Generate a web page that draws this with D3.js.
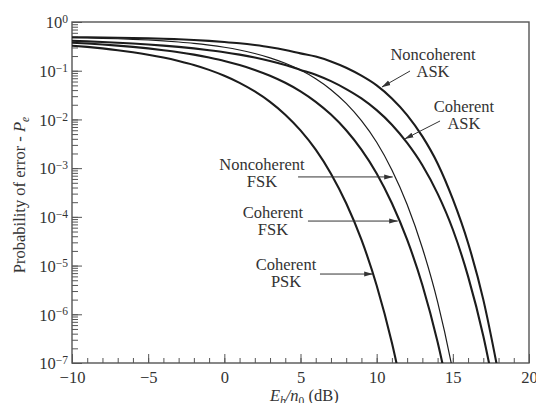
<!DOCTYPE html>
<html>
<head>
<meta charset="utf-8">
<script src="https://cdn.jsdelivr.net/npm/d3@7"></script>
<style>
  html, body { margin: 0; padding: 0; background: #fff; }
  svg { display: block; font-family: "Liberation Serif", "DejaVu Serif", serif; }
</style>
</head>
<body>
<svg id="chart" width="536" height="403"></svg>
<script>
// Eb/n0 in dB, shared by every curve (each curve stops once it is off the bottom)
const ebn0 = [-10, -9, -8, -7, -6, -5, -4, -3, -2, -1, 0, 1, 2, 3, 4, 5, 6, 7, 8, 9, 10, 11, 12, 13, 14, 15, 16, 17, 18];

// Probability of error
const coherentPSK = [0.327, 0.308, 0.287, 0.264, 0.239, 0.213, 0.186, 0.158, 0.131, 0.104, 0.0786, 0.0563, 0.0375, 0.0229, 0.0125, 0.00595, 0.00239, 7.7e-4, 1.9e-4, 3.4e-5, 3.9e-6, 2.6e-7, 9.0e-9];
const coherentFSK = [0.376, 0.361, 0.345, 0.328, 0.308, 0.287, 0.264, 0.240, 0.214, 0.186, 0.159, 0.131, 0.104, 0.0789, 0.0565, 0.0377, 0.0230, 0.0126, 0.0060, 0.0024, 7.8e-4, 1.9e-4, 3.4e-5, 4.0e-6, 2.7e-7, 9.4e-9];
const noncoherentFSK = [0.476, 0.470, 0.462, 0.453, 0.441, 0.427, 0.410, 0.389, 0.365, 0.336, 0.303, 0.266, 0.226, 0.184, 0.142, 0.103, 0.0683, 0.0408, 0.0213, 0.0094, 0.0034, 9.2e-4, 1.8e-4, 2.3e-5, 1.8e-6, 6.8e-8, 1.1e-9];
const coherentASK = [0.412, 0.401, 0.389, 0.376, 0.362, 0.346, 0.328, 0.308, 0.287, 0.264, 0.240, 0.214, 0.187, 0.159, 0.131, 0.104, 0.083, 0.061, 0.042, 0.027, 0.0155, 0.0078, 0.0033, 1.15e-3, 3.0e-4, 5.5e-5, 6.0e-6, 3.6e-7, 1.0e-8];
const noncoherentASK = [0.488, 0.485, 0.481, 0.476, 0.470, 0.462, 0.453, 0.441, 0.427, 0.410, 0.389, 0.365, 0.336, 0.304, 0.267, 0.227, 0.195, 0.155, 0.115, 0.079, 0.050, 0.027, 0.0123, 0.0045, 1.25e-3, 2.3e-4, 2.9e-5, 2.0e-6, 6.0e-8];

const seriesNames = ['Coherent PSK', 'Coherent FSK', 'Noncoherent FSK', 'Coherent ASK', 'Noncoherent ASK'];
const seriesValues = [coherentPSK, coherentFSK, noncoherentFSK, coherentASK, noncoherentASK];
const thinSeries = ['Noncoherent FSK'];

// Axis ticks
const xMajorTicks = [-10, -5, 0, 5, 10, 15, 20];
const xMinorTicks = d3.range(-10, 21, 1);
const yDecades = [1, 1e-1, 1e-2, 1e-3, 1e-4, 1e-5, 1e-6, 1e-7];
const yDecadeExponents = ['0', '\u22121', '\u22122', '\u22123', '\u22124', '\u22125', '\u22126', '\u22127'];

// Curve labels: text anchor, arrow tail and arrow head, in data units
const labelLines = [['Noncoherent', 'ASK'], ['Coherent', 'ASK'], ['Noncoherent', 'FSK'], ['Coherent', 'FSK'], ['Coherent', 'PSK']];
const labelAt = [[13.70, 0.166], [15.73, 0.0142], [2.47, 9.16e-4], [3.19, 9.48e-5], [4.05, 8.11e-6]];
const arrowFrom = [[12.19, 0.0986], [14.16, 0.00929], [4.84, 6.6e-4], [5.49, 8.2e-5], [6.28, 6.7e-6]];
const arrowTo = [[10.35, 0.0463], [11.86, 0.0040], [11.05, 6.6e-4], [11.38, 8.2e-5], [9.74, 6.7e-6]];

const margin = { top: 22, right: 7, bottom: 40, left: 72 };
const width = 536 - margin.left - margin.right;
const height = 403 - margin.top - margin.bottom;

const svg = d3.select('#chart');
const g = svg.append('g').attr('transform', `translate(${margin.left},${margin.top})`);

const x = d3.scaleLinear().domain([-10, 20]).range([0, width]);
const y = d3.scaleLog().domain([1e-7, 1]).range([height, 0]);

const textColor = '#333';
const axisColor = '#555';

// Arrow head
svg.append('defs').append('marker')
  .attr('id', 'arrow')
  .attr('markerUnits', 'userSpaceOnUse')
  .attr('markerWidth', 9)
  .attr('markerHeight', 6)
  .attr('refX', 8.5)
  .attr('refY', 3)
  .attr('orient', 'auto')
  .append('path')
  .attr('d', 'M0,0.5 L9,3 L0,5.5 Z')
  .attr('fill', '#333');

svg.select('defs').append('clipPath')
  .attr('id', 'plotClip')
  .append('rect')
  .attr('width', width)
  .attr('height', height);

// Eje X: minor and major ticks pointing inward
g.append('g')
  .attr('transform', `translate(0,${height})`)
  .call(d3.axisBottom(x).tickValues(xMinorTicks).tickSize(-5).tickFormat(''))
  .call(a => a.select('.domain').remove())
  .selectAll('line').attr('stroke', axisColor);

g.append('g')
  .attr('transform', `translate(0,${height})`)
  .call(d3.axisBottom(x).tickValues(xMajorTicks).tickSize(-9).tickPadding(8)
    .tickFormat(d => d < 0 ? '\u2212' + Math.abs(d) : d))
  .call(a => a.select('.domain').remove())
  .call(a => a.selectAll('line').attr('stroke', axisColor))
  .selectAll('text')
  .style('font-family', '"Liberation Serif", serif')
  .style('font-size', '16.5px')
  .attr('fill', textColor);

// Eje Y: log minor ticks and decade ticks
g.append('g')
  .call(d3.axisLeft(y).tickValues(y.ticks()).tickSize(-6).tickFormat(''))
  .call(a => a.select('.domain').remove())
  .selectAll('line').attr('stroke', axisColor);

const yAxis = g.append('g')
  .call(d3.axisLeft(y).tickValues(yDecades).tickSize(-10).tickPadding(4).tickFormat(''))
  .call(a => a.select('.domain').remove())
  .call(a => a.selectAll('line').attr('stroke', axisColor));

yAxis.selectAll('.tick text')
  .attr('fill', textColor)
  .style('font-family', '"Liberation Serif", serif')
  .style('font-size', '16.5px')
  .attr('dy', '0.35em')
  .each(function(d, i) {
    const t = d3.select(this);
    t.append('tspan').text('10');
    t.append('tspan')
      .attr('dy', '-0.45em')
      .style('font-size', '11.5px')
      .text(yDecadeExponents[i]);
  });

// Frame
g.append('rect')
  .attr('width', width)
  .attr('height', height)
  .attr('fill', 'none')
  .attr('stroke', axisColor)
  .attr('stroke-width', 1.4);

// Curves
const line = d3.line()
  .x(d => x(d[0]))
  .y(d => y(d[1]))
  .curve(d3.curveMonotoneX);

g.append('g')
  .attr('clip-path', 'url(#plotClip)')
  .selectAll('path')
  .data(seriesNames)
  .enter()
  .append('path')
  .attr('d', (name, i) => line(seriesValues[i].map((v, j) => [ebn0[j], v])))
  .attr('fill', 'none')
  .attr('stroke', '#1c1c1c')
  .attr('stroke-width', name => thinSeries.includes(name) ? 1.2 : 2.1);

// Labels and arrows
const notes = g.append('g');
labelLines.forEach((lines, i) => {
  notes.append('line')
    .attr('x1', x(arrowFrom[i][0]))
    .attr('y1', y(arrowFrom[i][1]))
    .attr('x2', x(arrowTo[i][0]))
    .attr('y2', y(arrowTo[i][1]))
    .attr('stroke', '#333')
    .attr('stroke-width', 1)
    .attr('marker-end', 'url(#arrow)');

  notes.append('text')
    .attr('x', x(labelAt[i][0]))
    .attr('y', y(labelAt[i][1]))
    .attr('text-anchor', 'middle')
    .attr('fill', textColor)
    .style('font-size', '16.5px')
    .selectAll('tspan')
    .data(lines)
    .enter()
    .append('tspan')
    .attr('x', x(labelAt[i][0]))
    .attr('dy', (d, k) => k === 0 ? 0 : 17)
    .text(d => d);
});

// Etiqueta X
const xLabel = svg.append('text')
  .attr('x', margin.left + x(0) + 80)
  .attr('y', 401)
  .attr('text-anchor', 'middle')
  .attr('fill', textColor)
  .style('font-size', '16.5px');
xLabel.append('tspan').style('font-style', 'italic').text('E');
xLabel.append('tspan').attr('dy', 4).style('font-style', 'italic').style('font-size', '11.5px').text('b');
xLabel.append('tspan').attr('dy', -4).style('font-style', 'italic').text('/n');
xLabel.append('tspan').attr('dy', 4).style('font-size', '11.5px').text('0');
xLabel.append('tspan').attr('dy', -4).text(' (dB)');

// Etiqueta Y
const yLabel = svg.append('text')
  .attr('transform', 'rotate(-90)')
  .attr('x', -195)
  .attr('y', 25)
  .attr('text-anchor', 'middle')
  .attr('fill', textColor)
  .style('font-size', '16.5px');
yLabel.append('tspan').text('Probability of error - ');
yLabel.append('tspan').style('font-style', 'italic').text('P');
yLabel.append('tspan').attr('dy', 4).style('font-style', 'italic').style('font-size', '11.5px').text('e');
</script>
</body>
</html>
